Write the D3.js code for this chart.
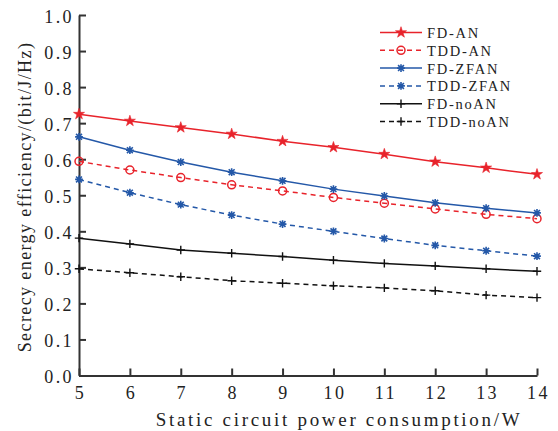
<!DOCTYPE html>
<html>
<head>
<meta charset="utf-8">
<script src="https://cdn.jsdelivr.net/npm/d3@7"></script>
<style>
  body { margin: 0; background: #fff; }
  text { font-family: "Liberation Serif", "Times New Roman", serif; fill: #222; }
</style>
</head>
<body>
<script>
var xs = [5, 6, 7, 8, 9, 10, 11, 12, 13, 14]
var fdAN    = [0.725, 0.706, 0.688, 0.670, 0.650, 0.633, 0.614, 0.593, 0.576, 0.558]
var tddAN   = [0.594, 0.570, 0.549, 0.529, 0.512, 0.494, 0.478, 0.462, 0.447, 0.435]
var fdZFAN  = [0.662, 0.625, 0.592, 0.564, 0.540, 0.517, 0.498, 0.479, 0.464, 0.451]
var tddZFAN = [0.544, 0.507, 0.474, 0.445, 0.420, 0.400, 0.380, 0.361, 0.346, 0.331]
var fdNoAN  = [0.381, 0.365, 0.348, 0.339, 0.330, 0.320, 0.311, 0.304, 0.296, 0.289]
var tddNoAN = [0.296, 0.285, 0.274, 0.263, 0.256, 0.249, 0.243, 0.235, 0.223, 0.216]
var yTicks = [0, 0.1, 0.2, 0.3, 0.4, 0.5, 0.6, 0.7, 0.8, 0.9, 1.0]

var red = '#e8232b', blue = '#2458a8', black = '#111'

var series = [
  {name: 'FD-AN',    values: fdAN,    color: red,   dash: null,  marker: 'star'},
  {name: 'TDD-AN',   values: tddAN,   color: red,   dash: '5,4', marker: 'circle'},
  {name: 'FD-ZFAN',  values: fdZFAN,  color: blue,  dash: null,  marker: 'asterisk'},
  {name: 'TDD-ZFAN', values: tddZFAN, color: blue,  dash: '5,4', marker: 'asterisk'},
  {name: 'FD-noAN',  values: fdNoAN,  color: black, dash: null,  marker: 'plus'},
  {name: 'TDD-noAN', values: tddNoAN, color: black, dash: '5,4', marker: 'plus'}
]

var W = 558, H = 431
var x = d3.scaleLinear().domain([5, 14]).range([79, 537])
var y = d3.scaleLinear().domain([0, 1]).range([375.5, 15])

var svg = d3.select('body').append('svg')
  .attr('width', W).attr('height', H)

function drawMarker(g, type, color) {
  if (type === 'star') {
    g.append('path').attr('d', d3.symbol(d3.symbolStar, 38)())
      .attr('fill', color).attr('stroke', color).attr('stroke-width', 0.6)
  } else if (type === 'circle') {
    g.append('circle').attr('r', 4)
      .attr('fill', 'none').attr('stroke', color).attr('stroke-width', 1.5)
  } else if (type === 'asterisk') {
    var a = 3.9
    g.append('path')
      .attr('d', 'M0,' + -a + 'V' + a + 'M' + -a + ',0H' + a +
        'M' + -a * 0.75 + ',' + -a * 0.75 + 'L' + a * 0.75 + ',' + a * 0.75 +
        'M' + -a * 0.75 + ',' + a * 0.75 + 'L' + a * 0.75 + ',' + -a * 0.75)
      .attr('stroke', color).attr('stroke-width', 1.6).attr('fill', 'none')
  } else if (type === 'plus') {
    var b = 4.2
    g.append('path')
      .attr('d', 'M0,' + -b + 'V' + b + 'M' + -b + ',0H' + b)
      .attr('stroke', color).attr('stroke-width', 1.4).attr('fill', 'none')
  }
}

// axes
var yAxis = d3.axisLeft(y).tickValues(yTicks).tickFormat(d3.format('.1f'))
  .tickSizeInner(-7).tickSizeOuter(0).tickPadding(5)
var xAxis = d3.axisBottom(x).tickValues(xs).tickFormat(d3.format('d'))
  .tickSizeInner(-7).tickSizeOuter(0).tickPadding(11)

var gy = svg.append('g').attr('transform', 'translate(79,0)').call(yAxis)
var gx = svg.append('g').attr('transform', 'translate(0,375.5)').call(xAxis)

;[gx, gy].forEach(function(g) {
  g.selectAll('path, line').attr('stroke', '#333').attr('stroke-width', 2)
  g.selectAll('text')
    .style('font-family', '"Liberation Serif", "Times New Roman", serif')
    .style('font-size', '18px').style('letter-spacing', '2.4px')
    .attr('fill', '#222')
})
gy.selectAll('text').attr('dy', '0.4em')
gx.selectAll('text').attr('dy', '0.72em').attr('dx', '1px')

// lines
var line = d3.line()
  .x(function(d, i) { return x(xs[i]) })
  .y(function(d) { return y(d) })

var plot = svg.append('g')
series.forEach(function(s) {
  plot.append('path')
    .attr('d', line(s.values))
    .attr('fill', 'none')
    .attr('stroke', s.color)
    .attr('stroke-width', 1.5)
    .attr('stroke-dasharray', s.dash)
  s.values.forEach(function(v, i) {
    var g = plot.append('g').attr('transform', 'translate(' + x(xs[i]) + ',' + y(v) + ')')
    drawMarker(g, s.marker, s.color)
  })
})

// legend
var legend = svg.append('g')
series.forEach(function(s, i) {
  var ly = 32.5 + i * 17.8
  legend.append('line')
    .attr('x1', 380).attr('x2', 422).attr('y1', ly).attr('y2', ly)
    .attr('stroke', s.color).attr('stroke-width', 1.5)
    .attr('stroke-dasharray', s.dash)
  drawMarker(legend.append('g').attr('transform', 'translate(401,' + ly + ')'), s.marker, s.color)
  legend.append('text')
    .attr('x', 427).attr('y', ly + 5.5)
    .style('font-size', '14.5px').style('letter-spacing', '1.7px')
    .text(s.name)
})

// axis titles
svg.append('text')
  .attr('x', 339).attr('y', 425.5)
  .attr('text-anchor', 'middle')
  .style('font-size', '19px').style('letter-spacing', '2.7px')
  .text('Static circuit power consumption/W')

svg.append('text')
  .attr('transform', 'translate(31,197) rotate(-90)')
  .attr('text-anchor', 'middle')
  .style('font-size', '18px').style('letter-spacing', '1.4px')
  .text('Secrecy energy efficiency/(bit/J/Hz)')
</script>
</body>
</html>
